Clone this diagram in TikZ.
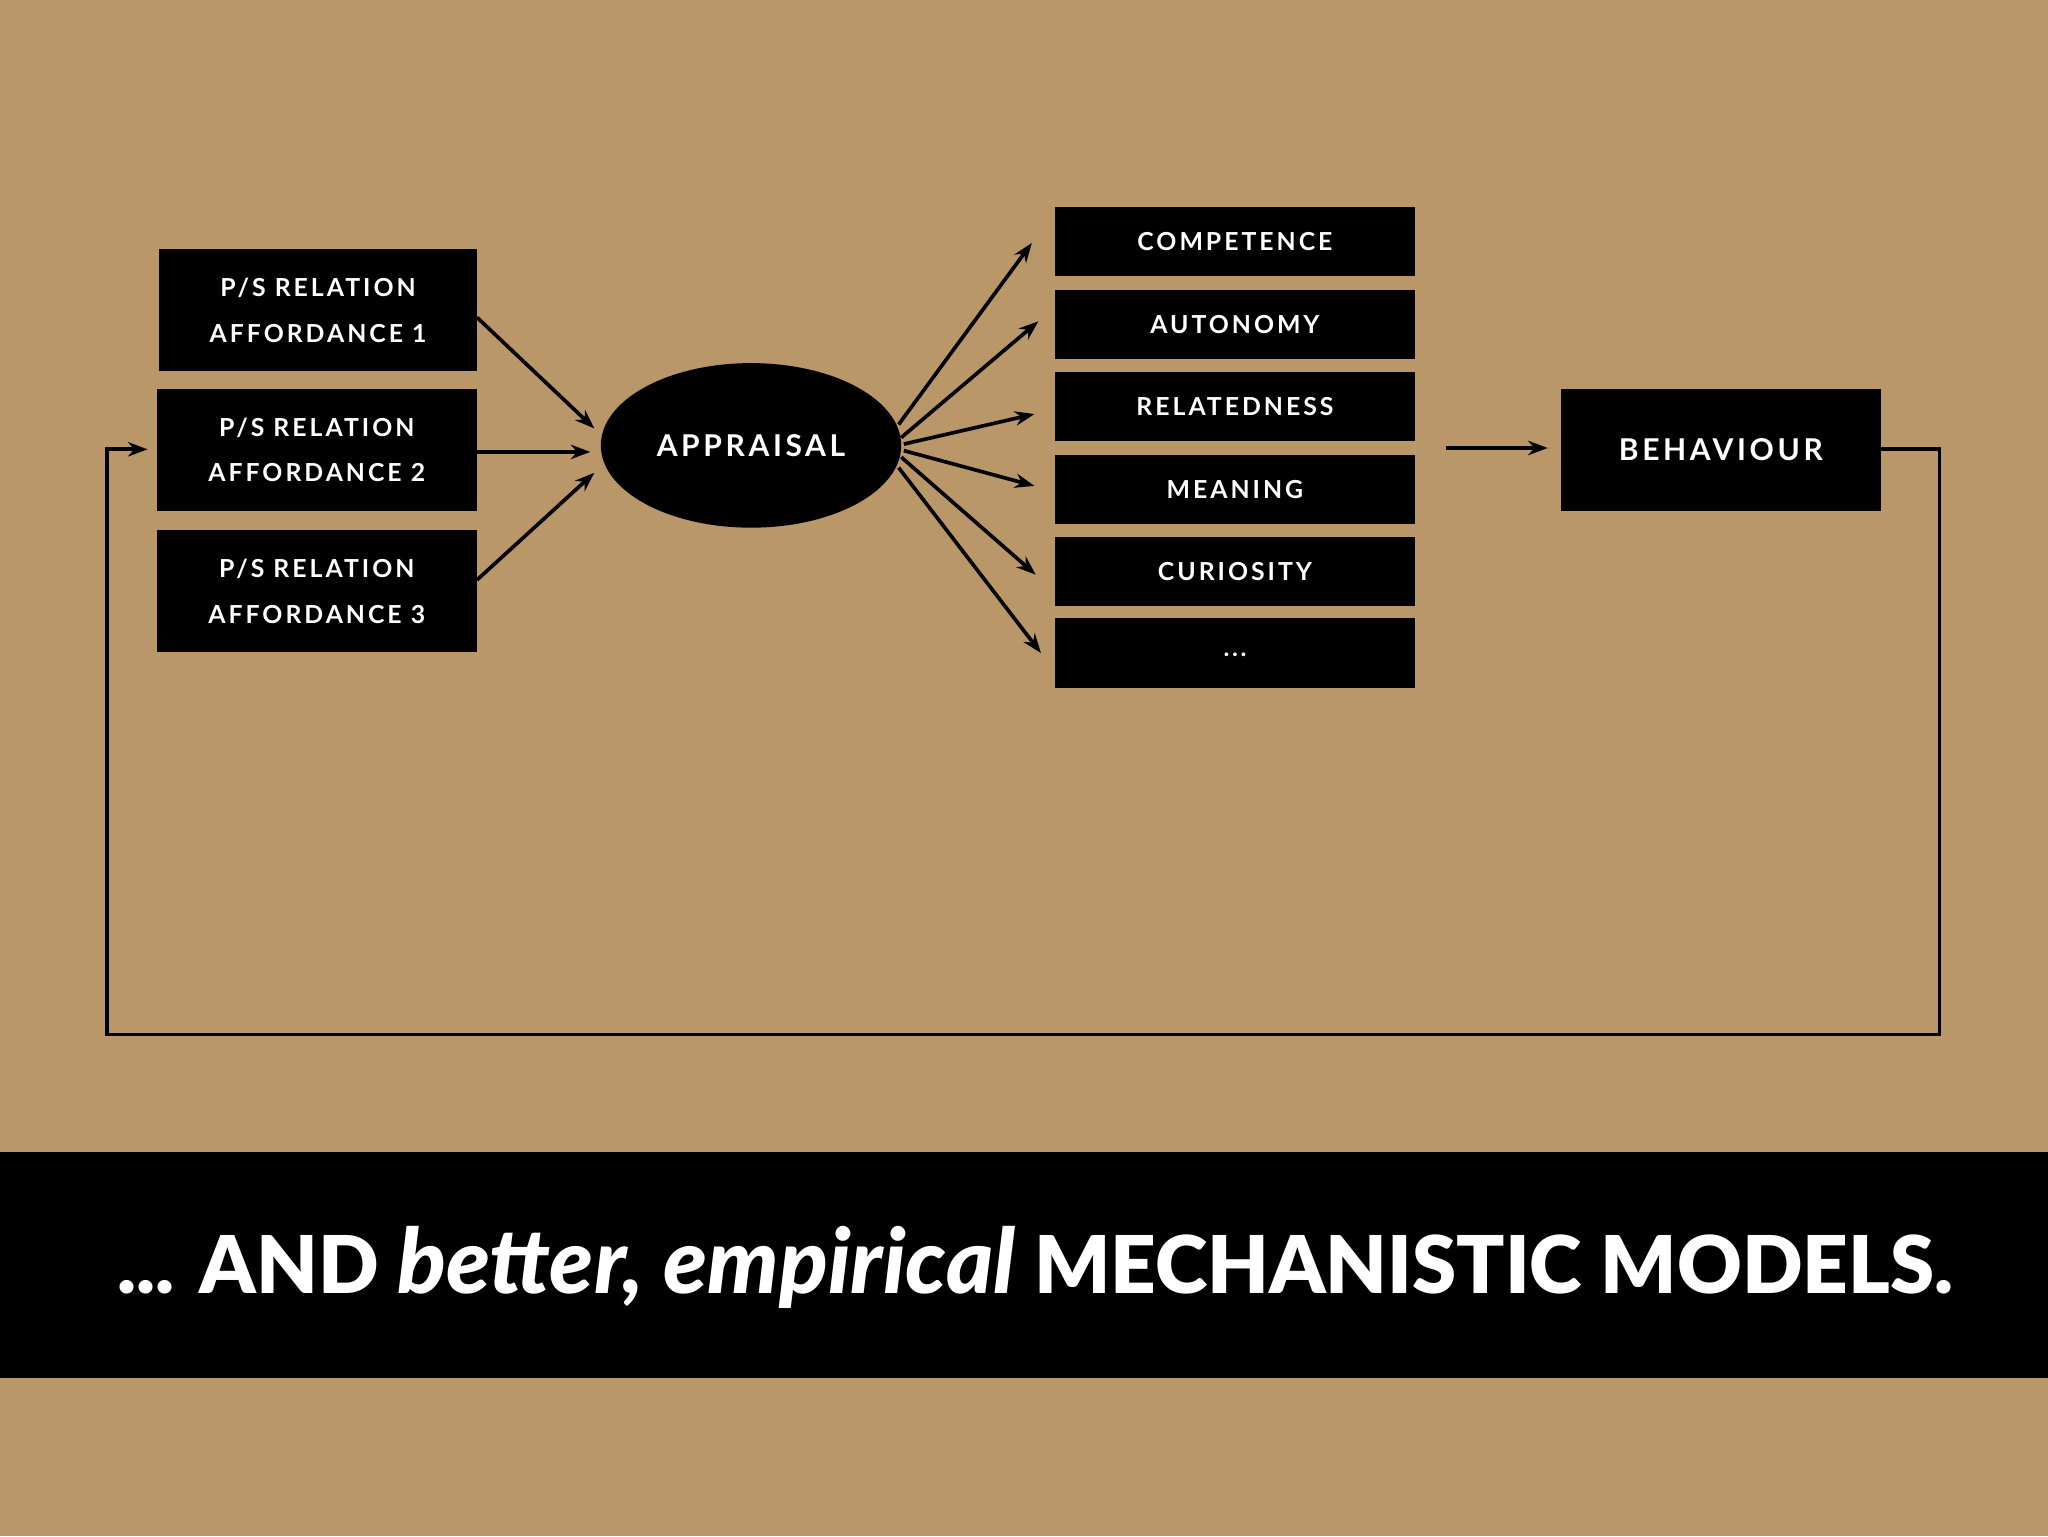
\documentclass[tikz,border=0pt]{standalone}
\usepackage{fontspec}
\setmainfont{Lato}
\newfontfamily\boxfont[LetterSpace=12]{Lato Bold}
\newfontfamily\capsfont{Lato Black}
\newfontfamily\myscript{Lato Black Italic}
\usetikzlibrary{arrows.meta,shapes.geometric}
\definecolor{kraft}{RGB}{186,151,104}
\begin{document}
\begin{tikzpicture}[x=1pt,y=-1pt,
  bx/.style={fill=black,text=white,inner sep=0pt,font=\boxfont\fontsize{19}{35}\selectfont,align=center},
  arr/.style={-{Stealth[length=15pt,width=11pt]},line width=2.8pt}]
\fill[kraft] (0,0) rectangle (1568,1176);
\useasboundingbox (0,0) rectangle (1568,1176);
\node[bx,minimum width=243pt,minimum height=93pt] (a1) at (243.5,237.5) {P/S RELATION\\AFFORDANCE 1};
\node[bx,minimum width=245pt,minimum height=93pt] (a2) at (242.5,344.5) {P/S RELATION\\AFFORDANCE 2};
\node[bx,minimum width=245pt,minimum height=93pt] (a3) at (242.5,452.5) {P/S RELATION\\AFFORDANCE 3};
\node[ellipse,fill=black,text=white,minimum width=230pt,minimum height=126pt,inner sep=0pt,font=\boxfont\fontsize{23}{27}\selectfont] (ap) at (575,341) {APPRAISAL};
\foreach \n/\t/\y in {c1/COMPETENCE/185,c2/AUTONOMY/248.5,c3/RELATEDNESS/311.5,c4/MEANING/374.5,c5/CURIOSITY/437.5}
  \node[bx,minimum width=275pt,minimum height=53pt] (\n) at (945.5,\y) {\raisebox{-5pt}{\t}};
\node[bx,minimum width=275pt,minimum height=53pt] (c6) at (945.5,500) {\raisebox{-5pt}{.\kern2pt.\kern2pt.}};
\node[bx,minimum width=245pt,minimum height=93pt,font=\boxfont\fontsize{23}{27}\selectfont] (be) at (1317.5,344.5) {BEHAVIOUR};
\draw[arr] (a1.east|-0,243) -- (455,328);
\draw[arr] (a2.east|-0,346) -- (452,346);
\draw[arr] (a3.east|-0,444) -- (455,362);
\draw[arr] (688,325) -- (790,186);
\draw[arr] (690,335) -- (795,246);
\draw[arr] (692,340) -- (792,317);
\draw[arr] (692,345) -- (792,372);
\draw[arr] (690,350) -- (793,440);
\draw[arr] (688,358) -- (797,500);
\coordinate (bl) at (1107,343);
\draw[arr] (bl) -- (1185,343);
\coordinate (r1) at (1485,344);
\coordinate (r2) at (1485,792);
\coordinate (l1) at (82,792);
\coordinate (l2) at (82,344);
\coordinate (l3) at (113,344);
\draw[arr] (be.east|-r1) -- (r1) -- (r2) -- (l1) -- (l2) -- (l3);
\fill[black] (0,882) rectangle (1568,1055);
\node[text=white,inner sep=0pt,anchor=base west,font=\fontsize{61}{70}\selectfont] (bt) at (90,990)
 {{\capsfont ... AND }{\myscript\fontsize{69}{70}\selectfont better, empirical }{\capsfont MECHANISTIC MODELS.}};
\end{tikzpicture}
\end{document}
